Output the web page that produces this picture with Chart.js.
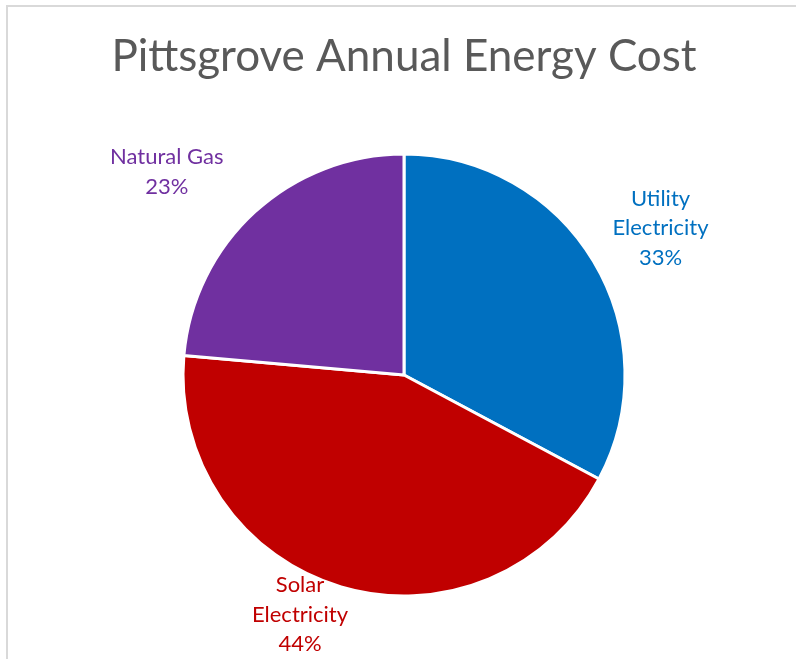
<!DOCTYPE html>
<html>
<head>
<meta charset="utf-8">
<script src="https://cdn.jsdelivr.net/npm/chart.js@4/dist/chart.umd.min.js"></script>
<style>
  html, body { margin: 0; padding: 0; background: #fff; }
  #wrap { position: relative; width: 796px; height: 659px; }
  #frame { position: absolute; left: 6px; top: 5px; width: 800px; height: 700px; border-left: 2px solid #d9d9d9; border-top: 2px solid #d9d9d9; box-sizing: border-box; pointer-events: none; }
  canvas { position: absolute; left: 0; top: 0; }
</style>
</head>
<body>
<div id="wrap">
  <canvas id="c" width="796" height="659"></canvas>
  <div id="frame"></div>
</div>
<script>
const categories = ["Utility Electricity", "Solar Electricity", "Natural Gas"];
const labelLines = [["Utility", "Electricity"], ["Solar", "Electricity"], ["Natural Gas"]];
const values = [32.8, 43.6, 23.6];
const percentLabels = ["33%", "44%", "23%"];
const colors = ["#0070C0", "#C00000", "#7030A0"];
const labelOffsets = [[67, -33], [-41, 28], [-88, -40]];

const outsideLabels = {
  id: 'outsideLabels',
  afterDatasetsDraw(chart) {
    const ctx = chart.ctx;
    const meta = chart.getDatasetMeta(0);
    ctx.save();
    ctx.font = '22px Lato';
    ctx.textAlign = 'center';
    ctx.textBaseline = 'middle';
    const lh = 29.5;
    meta.data.forEach((arc, i) => {
      const p = arc.getProps(['x', 'y', 'startAngle', 'endAngle', 'outerRadius'], true);
      const mid = (p.startAngle + p.endAngle) / 2;
      const ax = p.x + Math.cos(mid) * p.outerRadius + labelOffsets[i][0];
      const ay = p.y + Math.sin(mid) * p.outerRadius + labelOffsets[i][1];
      const lines = labelLines[i].concat([percentLabels[i]]);
      const y0 = ay - (lines.length - 1) * lh / 2;
      ctx.fillStyle = colors[i];
      lines.forEach((t, j) => ctx.fillText(t, ax, y0 + j * lh));
    });
    ctx.restore();
  }
};

new Chart(document.getElementById('c'), {
  type: 'pie',
  data: {
    labels: categories,
    datasets: [{
      data: values,
      backgroundColor: colors,
      borderColor: '#ffffff',
      borderWidth: 3
    }]
  },
  options: {
    responsive: false,
    animation: false,
    radius: 221,
    layout: { padding: { left: 12, right: 0, top: 0, bottom: 64 } },
    plugins: {
      legend: { display: false },
      tooltip: { enabled: false },
      title: {
        display: true,
        text: 'Pittsgrove Annual Energy Cost',
        color: '#595959',
        font: { family: 'Lato', size: 44, weight: 'normal', lineHeight: 1.2 },
        padding: { top: 30, bottom: 72.2 }
      }
    }
  },
  plugins: [outsideLabels]
});
</script>
</body>
</html>
